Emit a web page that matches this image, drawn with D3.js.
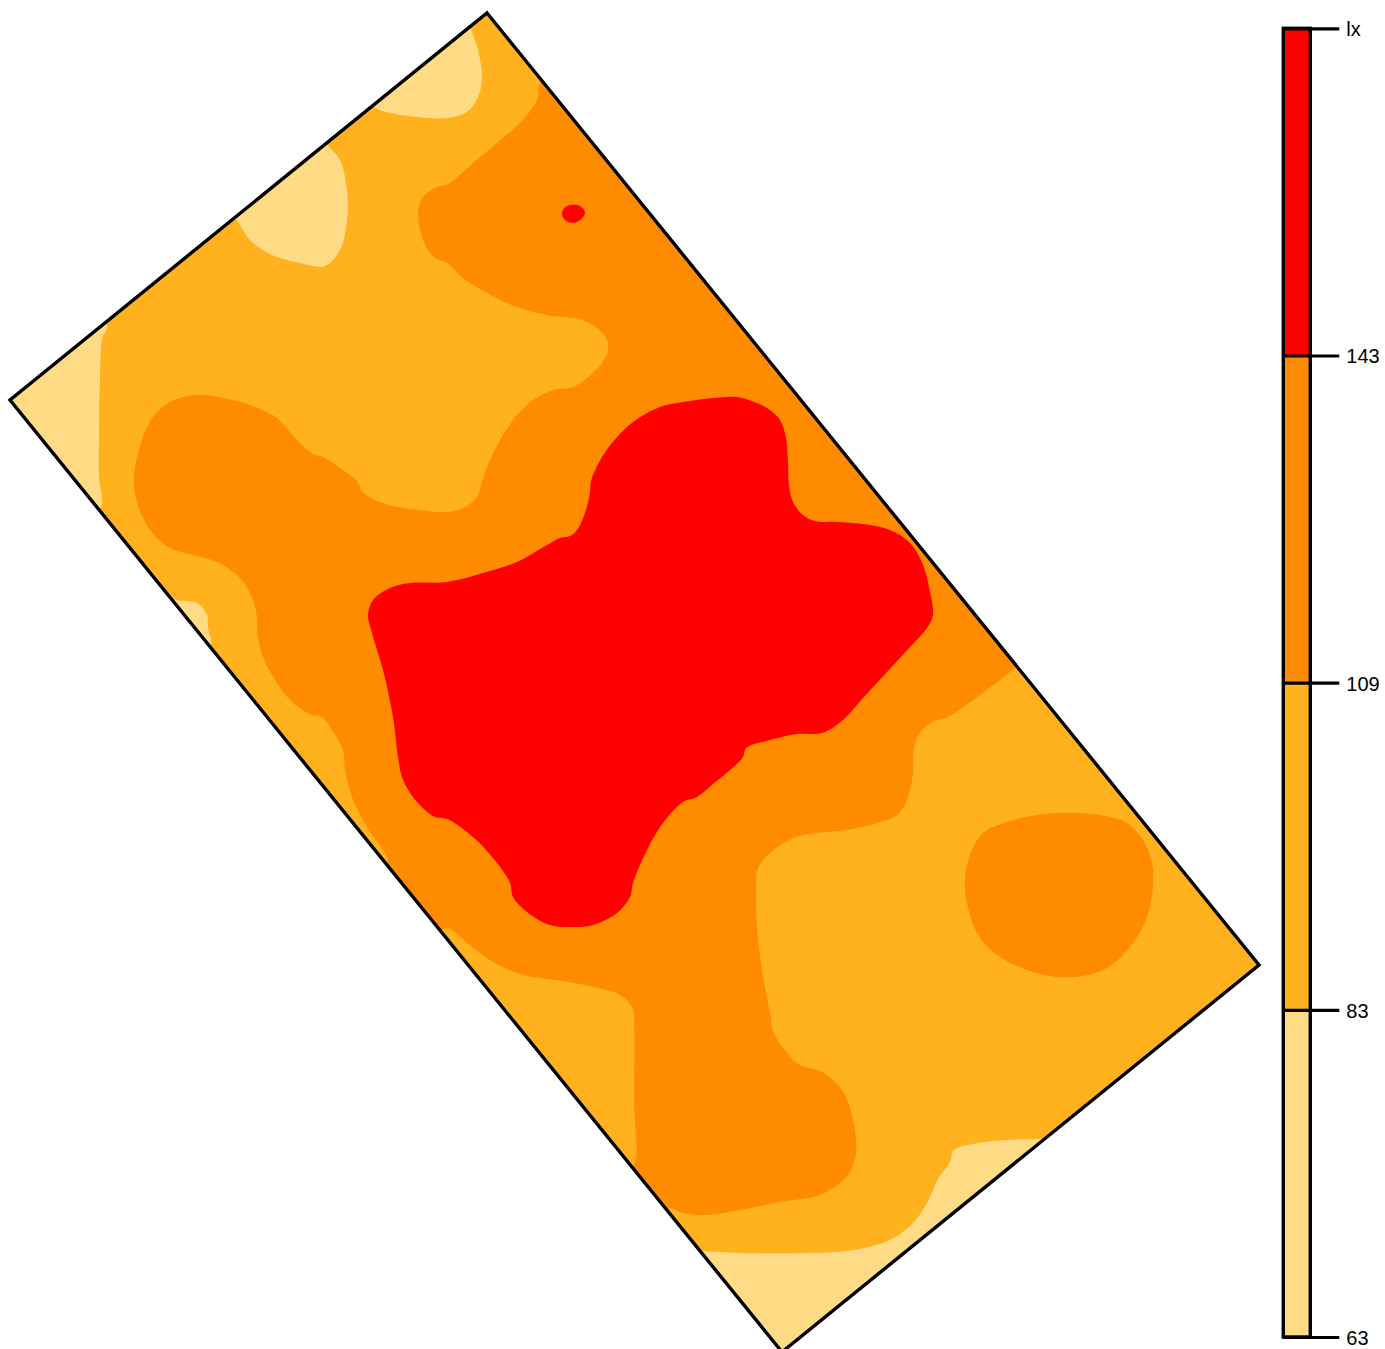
<!DOCTYPE html>
<html>
<head>
<meta charset="utf-8">
<script src="https://d3js.org/d3.v7.min.js"></script>
<style>
    html, body { margin: 0; background: #fff; overflow: hidden; }
    svg { display: block; }
    text { font-family: "Liberation Sans", Arial, sans-serif; }
</style>
</head>
<body>
<svg></svg>
<script>
// legend classes, bottom to top
var legendLabels = ['63', '83', '109', '143', 'lx'];
var classColors = ['#FFDB86', '#FFB21D', '#FF8C00', '#FF0000'];

// field boundary and illuminance isolines in map units
var field = [[487, 13], [1259, 965], [782, 1352], [10, 400]];

var below83 = [
    [[471, 29], [478, 50], [482, 78], [478, 97], [467, 112], [447, 118], [417, 117], [390, 113], [375, 108], [362, 95], [465, 10]],
    [[329, 147], [340, 160], [347, 190], [347, 220], [340, 250], [325, 266], [300, 263], [270, 254], [250, 240], [238, 222], [225, 205], [320, 135]],
    [[107, 325], [102, 340], [100, 377], [99, 433], [99, 477], [101, 507], [85, 515], [-10, 400], [95, 310]],
    [[176, 600], [197, 603], [207, 615], [208, 628], [211, 645], [200, 652], [160, 595]],
    [[703, 1251], [740, 1253], [807, 1253], [853, 1250], [890, 1240], [913, 1223], [927, 1203], [938, 1179], [950, 1162], [954, 1150], [973, 1144], [1007, 1140], [1040, 1139], [1060, 1139], [790, 1380], [685, 1250]]
];

var above109 = [
    [[540, 83], [537, 100], [520, 123], [497, 143], [473, 163], [448, 184], [437, 187], [423, 197], [418, 213], [423, 240], [428, 250], [435, 258], [447, 263], [463, 278], [487, 293], [517, 307], [547, 315], [563, 317], [580, 319], [597, 328], [607, 340], [608, 350], [602, 363], [588, 377], [573, 387], [553, 390], [533, 400], [517, 415], [500, 440], [487, 467], [481, 485], [477, 497], [463, 508], [447, 512], [420, 510], [393, 506], [373, 499], [362, 491], [358, 482], [340, 468], [323, 457], [313, 454], [302, 445], [290, 432], [277, 418], [260, 409], [233, 400], [197, 395], [170, 402], [153, 417], [142, 440], [134, 477], [137, 503], [150, 530], [170, 548], [193, 555], [217, 562], [237, 575], [250, 593], [257, 617], [257, 630], [263, 657], [277, 683], [293, 703], [312, 715], [322, 717], [333, 732], [343, 750], [345, 770], [353, 800], [367, 827], [388, 863], [372, 880], [425, 940], [447, 928], [467, 943], [493, 962], [523, 975], [563, 981], [593, 987], [620, 995], [632, 1007], [634, 1020], [634, 1100], [634, 1165], [620, 1175], [650, 1225], [668, 1208], [683, 1213], [707, 1215], [740, 1210], [780, 1202], [817, 1196], [833, 1188], [848, 1175], [856, 1153], [853, 1120], [845, 1095], [832, 1079], [820, 1071], [800, 1065], [783, 1048], [773, 1030], [770, 1013], [762, 970], [757, 927], [756, 887], [758, 868], [770, 853], [793, 838], [817, 833], [847, 830], [877, 823], [897, 815], [907, 800], [913, 773], [914, 748], [920, 733], [932, 722], [946, 718], [980, 695], [1015, 668], [1035, 650], [800, 360], [555, 70]],
    [[1067, 813], [1100, 815], [1127, 823], [1143, 840], [1152, 863], [1153, 887], [1147, 917], [1130, 947], [1107, 968], [1083, 976], [1057, 977], [1027, 970], [997, 955], [977, 933], [967, 903], [965, 880], [970, 855], [983, 833], [1007, 822], [1037, 815]]
];

var above143 = [
    [[570, 536], [577, 530], [585, 513], [590, 492], [591, 481], [602, 457], [617, 437], [633, 422], [660, 407], [690, 401], [713, 398], [737, 397], [757, 403], [770, 410], [780, 420], [786, 438], [788, 462], [789, 485], [793, 502], [803, 515], [815, 521], [837, 522], [863, 524], [890, 530], [910, 543], [923, 565], [930, 592], [933, 615], [927, 628], [910, 647], [887, 672], [863, 698], [843, 720], [822, 733], [797, 734], [770, 740], [746, 748], [743, 757], [730, 770], [713, 784], [697, 797], [683, 802], [663, 823], [647, 850], [633, 883], [630, 897], [617, 913], [593, 925], [573, 927], [550, 925], [527, 912], [513, 897], [510, 883], [493, 858], [473, 837], [447, 819], [435, 817], [417, 802], [403, 780], [398, 757], [393, 717], [383, 670], [372, 633], [368, 615], [373, 600], [390, 588], [410, 583], [447, 582], [483, 573], [517, 562], [547, 545], [560, 538]],
    [[562, 213], [567, 206], [580, 206], [585, 213], [580, 220], [573, 223], [565, 220]]
];

var canvasWidth = 1385;
var canvasHeight = 1349;

var svg = d3.select('svg')
    .attr('width', canvasWidth)
    .attr('height', canvasHeight);

var xScale = d3.scaleLinear().domain([0, 1385]).range([0, canvasWidth]);
var yScale = d3.scaleLinear().domain([0, 1349]).range([0, canvasHeight]);

var isoline = d3.line()
    .x(function (d) { return xScale(d[0]); })
    .y(function (d) { return yScale(d[1]); })
    .curve(d3.curveCatmullRomClosed.alpha(0.5));

var outline = d3.line()
    .x(function (d) { return xScale(d[0]); })
    .y(function (d) { return yScale(d[1]); })
    .curve(d3.curveLinearClosed);

svg.append('defs').append('clipPath')
    .attr('id', 'field-clip')
    .append('path')
    .attr('d', outline(field));

// Filled bands, lowest class first
var map = svg.append('g').attr('clip-path', 'url(#field-clip)');

map.append('path')
    .attr('d', outline(field))
    .attr('fill', classColors[1]);

function drawBand(regions, color) {
    map.selectAll(null)
        .data(regions)
        .enter()
        .append('path')
        .attr('d', isoline)
        .attr('fill', color);
}

drawBand(below83, classColors[0]);
drawBand(above109, classColors[2]);
drawBand(above143, classColors[3]);

svg.append('path')
    .attr('d', outline(field))
    .attr('fill', 'none')
    .attr('stroke', '#000')
    .attr('stroke-width', 3.4)
    .attr('stroke-linejoin', 'miter');

// Legend
var legendX = 1283.3;
var legendWidth = 27;
var legendScale = d3.scalePoint()
    .domain(legendLabels)
    .range([1337, 28.3]);

var legend = svg.append('g');

legend.selectAll('.band')
    .data(classColors)
    .enter()
    .append('rect')
    .attr('class', 'band')
    .attr('x', legendX)
    .attr('width', legendWidth)
    .attr('y', function (d, i) { return legendScale(legendLabels[i + 1]); })
    .attr('height', function (d, i) {
        return legendScale(legendLabels[i]) - legendScale(legendLabels[i + 1]);
    })
    .attr('fill', function (d) { return d; });

legend.append('rect')
    .attr('x', legendX)
    .attr('y', legendScale('lx'))
    .attr('width', legendWidth)
    .attr('height', legendScale('63') - legendScale('lx'))
    .attr('fill', 'none')
    .attr('stroke', '#000')
    .attr('stroke-width', 3.4);

var legendAxis = d3.axisRight(legendScale)
    .tickSize(56)
    .tickPadding(7);

var axisGroup = legend.append('g')
    .attr('transform', 'translate(' + legendX + ',0)')
    .call(legendAxis);

axisGroup.select('.domain').remove();
axisGroup.selectAll('line').attr('stroke', '#000').attr('stroke-width', 3.2);
axisGroup.selectAll('text')
    .attr('fill', '#000')
    .attr('dy', '0.37em')
    .style('font-size', '20px')
    .style('font-family', '"Liberation Sans", Arial, sans-serif');
</script>
</body>
</html>
